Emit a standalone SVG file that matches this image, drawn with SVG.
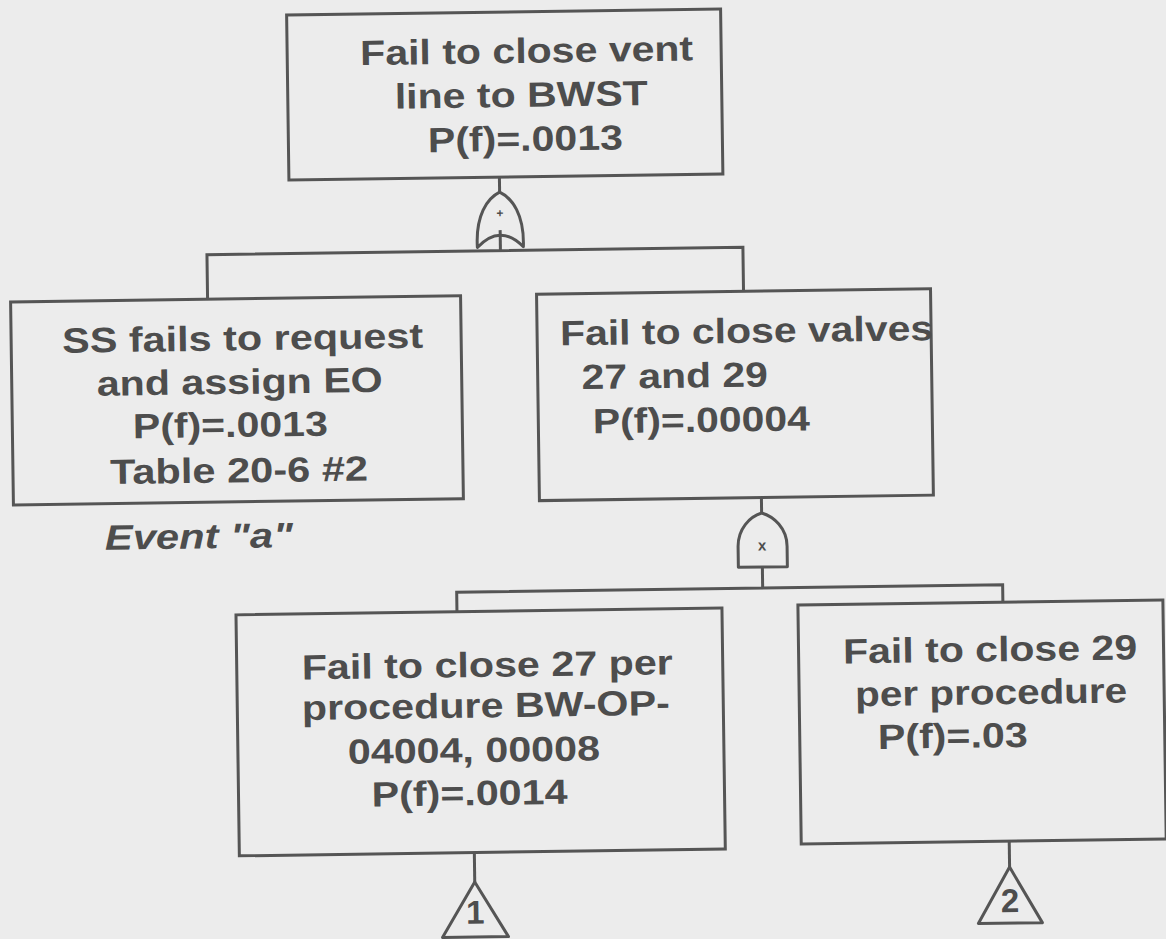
<svg xmlns="http://www.w3.org/2000/svg" width="1166" height="939" viewBox="0 0 1166 939">
<style>
.box{fill:none;stroke:#555;stroke-width:3}
.ln{fill:none;stroke:#555;stroke-width:3}
.gate{fill:none;stroke:#555;stroke-width:3;stroke-linejoin:round}
.t{font-family:"Liberation Sans",Arial,sans-serif;font-weight:bold;font-size:35px;fill:#4d4d4d}
.it{font-style:italic}
.sym{font-family:"Liberation Sans",Arial,sans-serif;font-weight:bold;fill:#4d4d4d;text-anchor:middle}
</style>
<rect width="1166" height="939" fill="#ececec"/>
<g transform="rotate(-0.8 583 470)">
<g id="connectors">
<line class="ln" x1="503.5" y1="176" x2="503.5" y2="191"/>
<line class="ln" x1="503.5" y1="229" x2="503.5" y2="249.5"/>
<polyline class="ln" points="210,294 210,249.5 746,249.5 746,293.6"/>
<line class="ln" x1="761" y1="500" x2="761" y2="515.5"/>
<line class="ln" x1="761" y1="569.5" x2="761" y2="590.5"/>
<polyline class="ln" points="455,610 455,590.5 1001,590.5 1001,608"/>
<line class="ln" x1="469" y1="851" x2="469" y2="880.5"/>
<line class="ln" x1="1004" y1="847" x2="1004" y2="873"/>
</g>
<g id="top">
<rect class="box" x="293" y="11" width="434" height="165"/>
<text class="t" x="366" y="62" textLength="333" lengthAdjust="spacingAndGlyphs">Fail to close vent</text>
<text class="t" x="400" y="106" textLength="253" lengthAdjust="spacingAndGlyphs">line to BWST</text>
<text class="t" x="432.5" y="150" textLength="195" lengthAdjust="spacingAndGlyphs">P(f)=.0013</text>
</g>
<g id="or-gate">
<path class="gate" d="M503.5,191 C516,197 528,214 526.5,246 Q503.5,222 480.5,246 C479,214 491,197 503.5,191 Z"/>
<text class="sym" x="503.5" y="216" font-size="12">+</text>
</g>
<g id="left">
<rect class="box" x="13" y="294" width="450" height="203"/>
<text class="t" x="64" y="345.5" textLength="361" lengthAdjust="spacingAndGlyphs">SS fails to request</text>
<text class="t" x="98" y="389" textLength="286" lengthAdjust="spacingAndGlyphs">and assign EO</text>
<text class="t" x="133.5" y="432" textLength="195" lengthAdjust="spacingAndGlyphs">P(f)=.0013</text>
<text class="t" x="110" y="477.5" textLength="258" lengthAdjust="spacingAndGlyphs">Table 20-6 #2</text>
<text class="t it" x="104" y="543" textLength="188" lengthAdjust="spacingAndGlyphs">Event "a"</text>
</g>
<g id="mid">
<rect class="box" x="539" y="293.6" width="394" height="206.4"/>
<text class="t" x="562" y="345" textLength="373" lengthAdjust="spacingAndGlyphs">Fail to close valves</text>
<text class="t" x="583" y="389" textLength="186" lengthAdjust="spacingAndGlyphs">27 and 29</text>
<text class="t" x="593.5" y="433.5" textLength="217" lengthAdjust="spacingAndGlyphs">P(f)=.00004</text>
</g>
<g id="and-gate">
<path class="gate" d="M737,569.5 L737,549 C737,531 749,519 761,515.5 C773,519 786,531 786,549 L786,569.5 Z"/>
<text class="sym" x="761" y="553" font-size="15">x</text>
</g>
<g id="b-left">
<rect class="box" x="234" y="610" width="486" height="241"/>
<text class="t" x="299" y="675.5" textLength="371" lengthAdjust="spacingAndGlyphs">Fail to close 27 per</text>
<text class="t" x="298.5" y="716" textLength="368" lengthAdjust="spacingAndGlyphs">procedure BW-OP-</text>
<text class="t" x="344" y="760.5" textLength="252" lengthAdjust="spacingAndGlyphs">04004, 00008</text>
<text class="t" x="367" y="803.5" textLength="196" lengthAdjust="spacingAndGlyphs">P(f)=.0014</text>
</g>
<g id="b-right">
<rect class="box" x="796" y="608" width="365" height="239"/>
<text class="t" x="840.5" y="667" textLength="294" lengthAdjust="spacingAndGlyphs">Fail to close 29</text>
<text class="t" x="852" y="710" textLength="272" lengthAdjust="spacingAndGlyphs">per procedure</text>
<text class="t" x="874" y="753" textLength="150" lengthAdjust="spacingAndGlyphs">P(f)=.03</text>
</g>
<g id="tri1">
<polygon class="gate" points="469,880.5 502,935.5 436,935.5"/>
<text class="sym" x="469" y="922" font-size="33">1</text>
</g>
<g id="tri2">
<polygon class="gate" points="1004,873 1036,929 972,929"/>
<text class="sym" x="1004" y="918" font-size="33">2</text>
</g>
</g>
</svg>
